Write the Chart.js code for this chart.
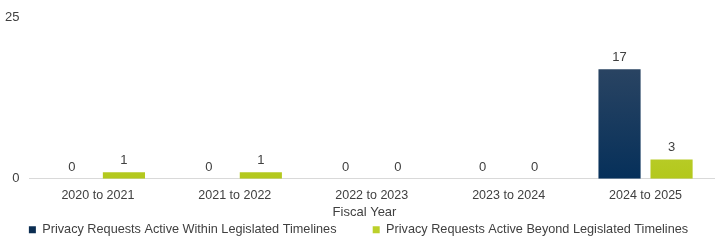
<!DOCTYPE html>
<html><head><meta charset="utf-8">
<script src="https://cdn.jsdelivr.net/npm/chart.js@4/dist/chart.umd.min.js"></script>
<style>html,body{margin:0;padding:0;background:#fff}#wrap{width:725px;height:252px}</style>
</head><body><div id="wrap"><canvas id="c" width="725" height="252"></canvas></div>
<script>
const categories = ["2020 to 2021","2021 to 2022","2022 to 2023","2023 to 2024","2024 to 2025"];
const withinValues = [0,0,0,0,17];
const beyondValues = [1,1,0,0,3];
const seriesNames = ["Privacy Requests Active Within Legislated Timelines","Privacy Requests Active Beyond Legislated Timelines"];
const yTicks = [0,25];
const xTitle = "Fiscal Year";

const FONT = "'Liberation Sans', Arial, sans-serif";
const TXT = "#404040";

function grad(ctx, top, bottom, solid){
  const ch = ctx.chart; const a = ch.chartArea;
  if(!a) return solid;
  const g = ch.ctx.createLinearGradient(0, a.top, 0, a.bottom);
  g.addColorStop(0, top); g.addColorStop(1, bottom);
  return g;
}

const labelPlugin = {
  id:'valLabels',
  afterLayout(chart){
    if(chart.legend){ chart.legend.left += 4; chart.legend.right += 4; }
  },
  afterDatasetsDraw(chart){
    const c = chart.ctx;
    c.save();
    c.font = "13px " + FONT;
    c.fillStyle = TXT;
    c.textAlign = 'center';
    c.textBaseline = 'bottom';
    chart.data.datasets.forEach((ds,i)=>{
      chart.getDatasetMeta(i).data.forEach((el,j)=>{
        c.fillText(String(ds.data[j]), el.x, el.y - 5);
      });
    });
    c.restore();
  }
};

new Chart(document.getElementById('c'), {
  type:'bar',
  data:{
    labels: categories,
    datasets:[
      {label: seriesNames[0], data: withinValues,
       backgroundColor: ctx=>grad(ctx,'#3a4d66','#06305a','#0b2d52'),
       borderWidth:0,
       categoryPercentage:0.76, barPercentage:0.81},
      {label: seriesNames[1], data: beyondValues,
       backgroundColor: ctx=>grad(ctx,'#d4e068','#b3c81c','#c0d32e'),
       borderWidth:0,
       categoryPercentage:0.76, barPercentage:0.81}
    ]
  },
  options:{
    responsive:false, animation:false,
    devicePixelRatio:1,
    layout:{padding:{top:8,right:11,left:-5,bottom:6}},
    plugins:{
      legend:{position:'bottom',
        labels:{boxWidth:7, boxHeight:7, padding:8, color:TXT, font:{family:FONT,size:12.7},
          generateLabels(chart){
            const items = Chart.defaults.plugins.legend.labels.generateLabels(chart);
            items.forEach((it,i)=>{
              it.fillStyle = i===0 ? '#0b2d52' : '#bcd02a';
              it.strokeStyle = it.fillStyle; it.lineWidth = 0;
              if(i===0) it.text = it.text + '        ';
            });
            return items;
          }}},
      tooltip:{enabled:false}
    },
    scales:{
      x:{grid:{display:false, drawTicks:false}, border:{display:true,color:'#d9d9d9'},
         ticks:{color:TXT, font:{family:FONT,size:12.5}, padding:9},
         title:{display:true, text:xTitle + '    ', color:TXT, font:{family:FONT,size:13}, padding:{top:-7,bottom:-5}}},
      y:{min:yTicks[0], max:yTicks[yTicks.length-1], grid:{display:false, drawTicks:false}, border:{display:false},
         afterBuildTicks(ax){ ax.ticks = yTicks.map(v=>({value:v})); },
         ticks:{color:TXT, font:{family:FONT,size:13}, padding:10}}
    }
  },
  plugins:[labelPlugin]
});
</script></body></html>
